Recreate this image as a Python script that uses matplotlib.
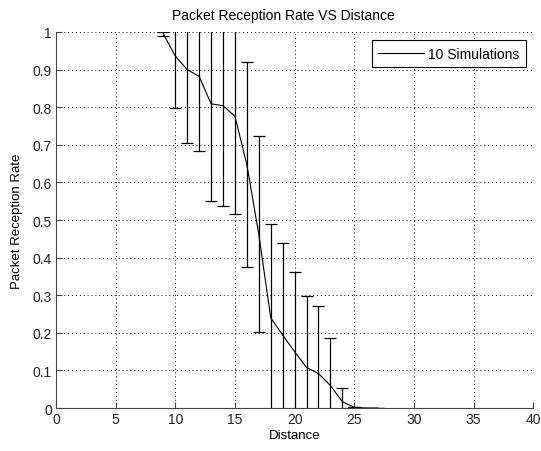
import numpy as np
import matplotlib.pyplot as plt
from matplotlib.lines import Line2D

# mean reception rate and half-width of the error bar at each distance
distance = [9, 10, 11, 12, 13, 14, 15, 16, 17, 18,
            19, 20, 21, 22, 23, 24, 25, 26, 27]
prr = [0.995, 0.936, 0.900, 0.882, 0.809, 0.804, 0.776, 0.647, 0.462, 0.240,
       0.194, 0.150, 0.108, 0.092, 0.060, 0.017, 0.002, 0.0, 0.0]
err = [0.005, 0.138, 0.195, 0.198, 0.259, 0.268, 0.259, 0.272, 0.261, 0.250,
       0.244, 0.212, 0.189, 0.179, 0.126, 0.036, 0.0, 0.0, 0.0]

plt.rcParams['font.family'] = ['Liberation Sans', 'DejaVu Sans']

fig = plt.figure(figsize=(5.41, 4.52), dpi=100)
ax = fig.add_axes([0.1035, 0.095, 0.882, 0.832])

ax.errorbar(distance, prr, yerr=err, color='black', linewidth=0.8,
            elinewidth=0.9, capsize=4.5, capthick=0.9)

ax.set_xlim(0, 40)
ax.set_ylim(0, 1)
ax.set_xticks(np.arange(0, 41, 5))
ax.set_yticks(np.arange(0, 1.01, 0.1))
ax.set_yticklabels(['0', '0.1', '0.2', '0.3', '0.4', '0.5', '0.6', '0.7', '0.8', '0.9', '1'])
ax.grid(True, linestyle=(0, (1, 3)), color='black', linewidth=0.7)
ax.tick_params(direction='in', length=4, labelsize=10, pad=3, color='#444444',
               labelcolor='#222222')
ax.spines['top'].set_visible(False)
ax.spines['right'].set_visible(False)
ax.spines['left'].set_color('#444444')
ax.spines['bottom'].set_color('#444444')

ax.set_xlabel('Distance', fontsize=9.5, labelpad=2)
ax.set_ylabel('Packet Reception Rate', fontsize=9.5, labelpad=7)
ax.set_title('Packet Reception Rate VS Distance', fontsize=10, pad=9, x=0.477)

handle = Line2D([], [], color='black', linewidth=0.8)
leg = ax.legend([handle], ['10 Simulations'], loc='upper right', fontsize=10,
                fancybox=False, framealpha=1, edgecolor='black',
                handlelength=3.3, borderpad=0.45, handletextpad=0.3,
                bbox_to_anchor=(0.99, 0.985), borderaxespad=0.2)
leg.get_frame().set_linewidth(0.8)

fig.savefig('out.png', dpi=100)
